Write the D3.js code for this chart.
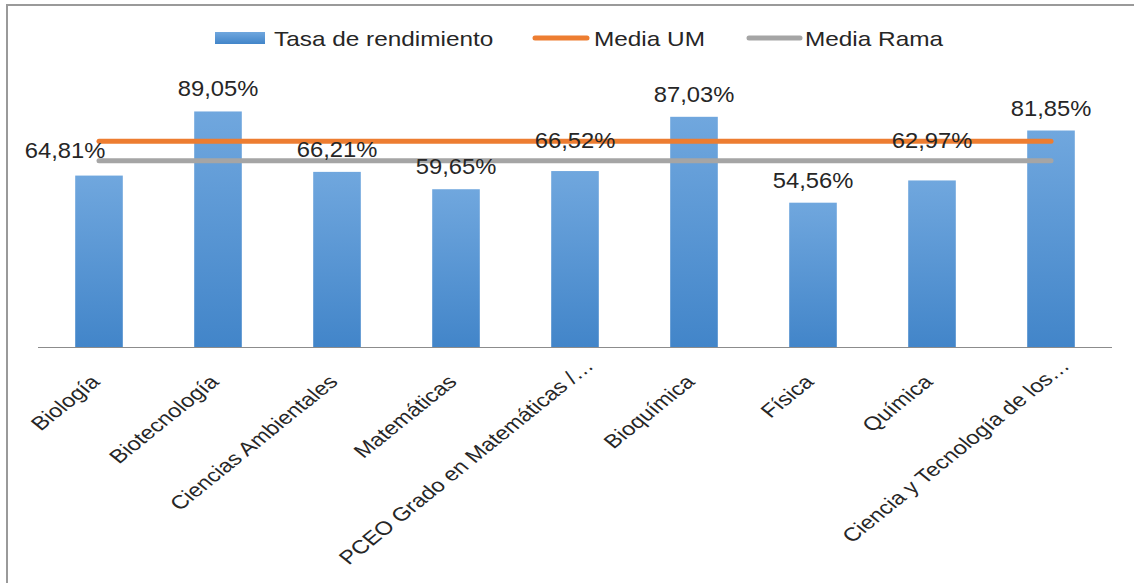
<!DOCTYPE html>
<html>
<head>
<meta charset="utf-8">
<script src="https://cdn.jsdelivr.net/npm/d3@7/dist/d3.min.js"></script>
<style>
  html, body { margin: 0; padding: 0; background: #fff; }
  svg { display: block; }
  text { font-family: "Liberation Sans", Arial, sans-serif; fill: #262626; }
</style>
</head>
<body>
<svg id="chart" width="1134" height="583"></svg>
<script>
// ---------- data ----------
const categories = [
  "Biología", "Biotecnología", "Ciencias Ambientales", "Matemáticas",
  "PCEO Grado en Matemáticas /…", "Bioquímica", "Física", "Química",
  "Ciencia y Tecnología de los…"
];
const tasaRendimiento = [64.81, 89.05, 66.21, 59.65, 66.52, 87.03, 54.56, 62.97, 81.85];
const mediaUM = 77.8;
const mediaRama = 70.4;
const seriesNames = ["Tasa de rendimiento", "Media UM", "Media Rama"];

// ---------- layout / style ----------
const W = 1134, H = 583;
const baseY = 347;
const colors = { bar: ["#70A7DE", "#4285C9"], um: "#ED7D31", rama: "#A5A5A5" };
// manual label nudges (px) as in the original chart
const labelNudge = [[-34, -3], [0, 0], [0, 0], [0, 0], [0, -8], [0, 0], [0, 0], [0, -17], [0, 0]];

const svg = d3.select("#chart");

// frame
svg.append("rect").attr("x", 7).attr("y", 5).attr("width", W + 20).attr("height", H + 20)
  .attr("fill", "none").attr("stroke", "#9a9a9a").attr("stroke-width", 2);

const x = d3.scaleBand().domain(categories).range([39.5, 1110.5])
  .paddingInner(0.6).paddingOuter(0.3);
const y = d3.scaleLinear().domain([0, 100]).range([baseY, baseY - 264.5]);
const cx = d => x(d) + x.bandwidth() / 2;

// gradient
const defs = svg.append("defs");
const grad = defs.append("linearGradient").attr("id", "barGrad")
  .attr("x1", 0).attr("y1", 0).attr("x2", 0).attr("y2", 1);
grad.append("stop").attr("offset", "0%").attr("stop-color", colors.bar[0]);
grad.append("stop").attr("offset", "100%").attr("stop-color", colors.bar[1]);

// bars
svg.append("g").selectAll("rect").data(categories).join("rect")
  .attr("x", d => x(d))
  .attr("y", (d, i) => y(tasaRendimiento[i]))
  .attr("width", x.bandwidth())
  .attr("height", (d, i) => y(0) - y(tasaRendimiento[i]))
  .attr("fill", "url(#barGrad)");

// axis
const axis = svg.append("g").attr("transform", `translate(0,${baseY})`)
  .call(d3.axisBottom(x).tickSize(0).tickSizeOuter(0));
axis.select(".domain").attr("stroke", "#8c8c8c").attr("stroke-width", 1)
  .attr("d", `M38,0.5H1112`);
axis.selectAll(".tick text")
  .attr("x", null).attr("y", null).attr("dy", null)
  .attr("text-anchor", "end")
  .style("font-size", "19px")
  .style("font-family", "'Liberation Sans', Arial, sans-serif")
  .attr("fill", "#262626")
  .attr("transform", d => {
    const trunc = d.endsWith("…");
    const dx = trunc ? 20 : 2, dy = trunc ? 20 : 36;
    return `translate(${dx},${dy}) scale(1.24,1) rotate(-45)`;
  });

// reference lines
const x0 = cx(categories[0]), x1 = cx(categories[categories.length - 1]);
const lineGen = d3.line().x(d => d[0]).y(d => d[1]);
svg.append("path").attr("d", lineGen([[x0, y(mediaUM)], [x1, y(mediaUM)]]))
  .attr("stroke", colors.um).attr("stroke-width", 5).attr("stroke-linecap", "round").attr("fill", "none");
svg.append("path").attr("d", lineGen([[x0, y(mediaRama)], [x1, y(mediaRama)]]))
  .attr("stroke", colors.rama).attr("stroke-width", 5).attr("stroke-linecap", "round").attr("fill", "none");

// data labels
const fmt = v => d3.format(".2f")(v).replace(".", ",") + "%";
svg.append("g").selectAll("text").data(categories).join("text")
  .attr("text-anchor", "middle")
  .style("font-size", "22px")
  .attr("transform", (d, i) => `translate(${cx(d) + labelNudge[i][0]},${y(tasaRendimiento[i]) - 15 + labelNudge[i][1]}) scale(1.08,1)`)
  .text((d, i) => fmt(tasaRendimiento[i]));

// legend
const lg = svg.append("g");
lg.append("rect").attr("x", 215).attr("y", 32).attr("width", 50).attr("height", 12).attr("fill", "url(#barGrad)");
lg.append("text").attr("transform", "translate(274,46) scale(1.16,1)").style("font-size", "21px").text(seriesNames[0]);
lg.append("line").attr("x1", 535).attr("x2", 587).attr("y1", 38).attr("y2", 38)
  .attr("stroke", colors.um).attr("stroke-width", 5).attr("stroke-linecap", "round");
lg.append("text").attr("transform", "translate(594,46) scale(1.16,1)").style("font-size", "21px").text(seriesNames[1]);
lg.append("line").attr("x1", 749).attr("x2", 800).attr("y1", 38).attr("y2", 38)
  .attr("stroke", colors.rama).attr("stroke-width", 5).attr("stroke-linecap", "round");
lg.append("text").attr("transform", "translate(805,46) scale(1.16,1)").style("font-size", "21px").text(seriesNames[2]);
</script>
</body>
</html>
